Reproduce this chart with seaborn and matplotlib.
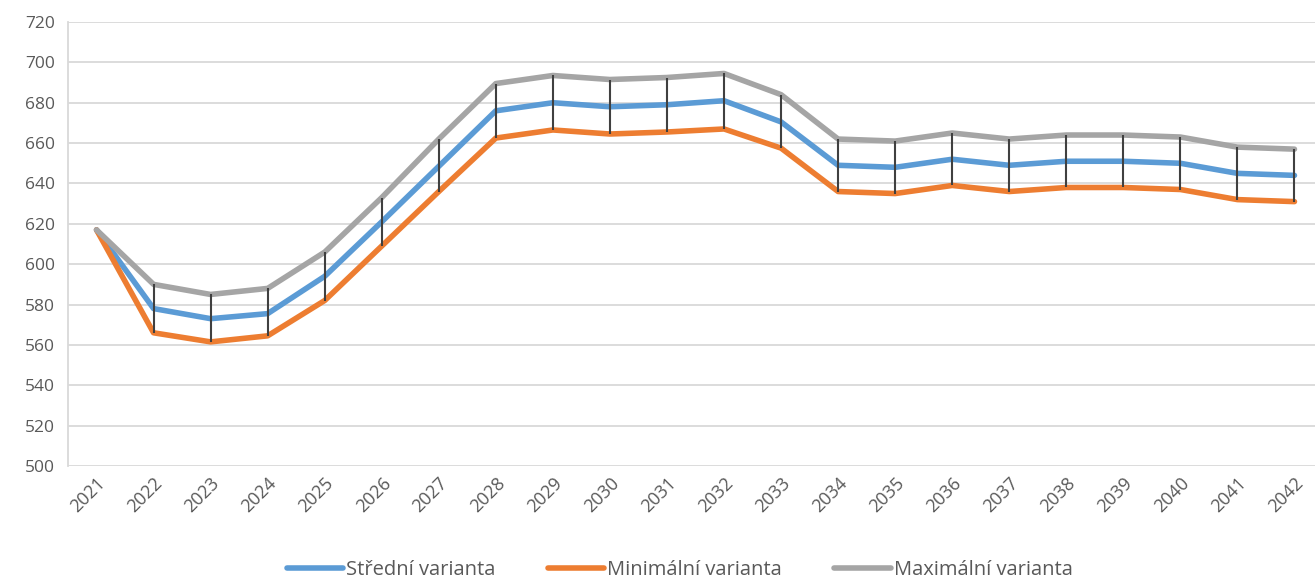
import matplotlib
matplotlib.use("Agg")
import matplotlib.pyplot as plt
import pandas as pd
import seaborn as sns

years = [str(y) for y in range(2021, 2043)]
stredni = [617, 578, 573, 575.5, 594, 621, 648.5, 676, 680, 678, 679, 681, 670.5,
           649, 648, 652, 649, 651, 651, 650, 645, 644]
minimalni = [617, 566, 561.5, 564.5, 582, 609, 636, 662.5, 666.5, 664.5, 665.5, 667, 657.5,
             636, 635, 639, 636, 638, 638, 637, 632, 631]
maximalni = [617, 590, 585, 588, 606, 633, 662, 689.5, 693.5, 691.5, 692.5, 694.5, 684,
             662, 661, 665, 662, 664, 664, 663, 658, 657]
series_names = ["Střední varianta", "Minimální varianta", "Maximální varianta"]
colors = ["#5B9BD5", "#ED7D31", "#A5A5A5"]

sns.set_style("white")
plt.rcParams['font.family'] = ['Open Sans', 'DejaVu Sans']

df = pd.DataFrame({"year": years, series_names[0]: stredni,
                   series_names[1]: minimalni, series_names[2]: maximalni})
df["pos"] = range(len(years))

fig = plt.figure(figsize=(13.15, 5.84), dpi=100)
ax = fig.add_axes([68 / 1315, 1 - 466 / 584, (1323 - 68) / 1315, (466 - 22) / 584])

# high-low lines between max and min
ax.vlines(df["pos"], df[series_names[1]], df[series_names[2]], color="#404040", lw=1.5, zorder=3)

for name, col in zip(series_names, colors):
    sns.lineplot(x="pos", y=name, data=df, ax=ax, color=col, lw=4, label=name, zorder=2)

ax.set_xlim(-0.5, len(years) - 0.5)
ax.set_ylim(500, 720)
ax.set_yticks(range(500, 721, 20))
ax.set_xticks(df["pos"])
ax.set_xticklabels(years, rotation=45, ha="right", rotation_mode="anchor")
ax.set_xlabel("")
ax.set_ylabel("")
ax.grid(axis="y", color="#D9D9D9", lw=1.3)
ax.set_axisbelow(True)
for s in ["top", "right", "bottom"]:
    ax.spines[s].set_visible(False)
ax.spines["left"].set_color("#D9D9D9")
ax.spines["left"].set_linewidth(1.3)
ax.tick_params(axis="y", colors="#D9D9D9", length=6, width=1.3, labelcolor="#595959", labelsize=12.5)
ax.tick_params(axis="x", length=0, labelcolor="#595959", labelsize=13, pad=6)

ax.legend(loc="center", bbox_to_anchor=(0.5 - 16 / 1255, -104 / 444), ncol=3, frameon=False,
          fontsize=14.5, handlelength=2.8, columnspacing=2.6, handletextpad=0.15,
          labelcolor="#595959", borderpad=0)

fig.savefig("out.png", dpi=100)
